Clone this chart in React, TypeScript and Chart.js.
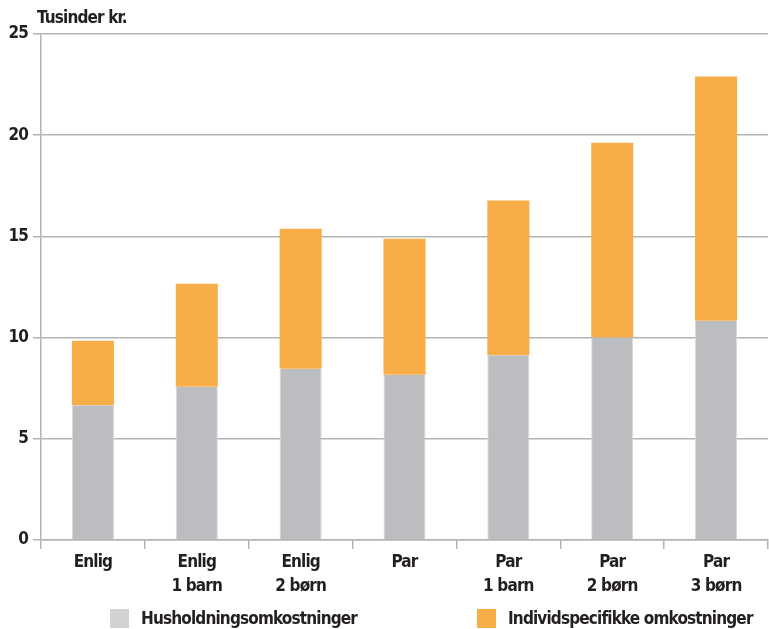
import React, { useEffect, useRef } from "react";
import { Chart, registerables } from "chart.js";

Chart.register(...registerables);

const categories: string[][] = [
  ["Enlig"],
  ["Enlig", "1 barn"],
  ["Enlig", "2 børn"],
  ["Par"],
  ["Par", "1 barn"],
  ["Par", "2 børn"],
  ["Par", "3 børn"],
];
const husholdning = [6.66, 7.57, 8.46, 8.16, 9.13, 10.0, 10.83];
const individ = [3.18, 5.09, 6.92, 6.73, 7.64, 9.63, 12.07];
const seriesNames = ["Husholdningsomkostninger", "Individspecifikke omkostninger"];
const yTicks = [0, 5, 10, 15, 20, 25];
const yTitle = "Tusinder kr.";

const FONT = "'DejaVu Sans', sans-serif";
const WEIGHT = "bold condensed";
const SIZE = 17;
const SPACING = "-0.85px";
const TEXT = "#231f20";
const GRAY = "#bcbdc0";
const GRAY_LEGEND = "#d1d2d4";
const ORANGE = "#f8ae48";
const GRID = "#b4b4b4";

export default function App() {
  const ref = useRef<HTMLCanvasElement | null>(null);

  useEffect(() => {
    document.body.style.margin = "0";
    const canvas = ref.current;
    if (!canvas) return;
    const textPlugin = {
      id: "yTitle",
      beforeDraw(chart: any) {
        (chart.ctx as any).letterSpacing = SPACING;
      },
      afterDraw(chart: any) {
        const ctx = chart.ctx;
        ctx.save();
        (ctx as any).letterSpacing = SPACING;
        ctx.font = `${WEIGHT} ${SIZE}px ${FONT}`;
        ctx.fillStyle = TEXT;
        ctx.textAlign = "left";
        ctx.textBaseline = "alphabetic";
        ctx.fillText(yTitle, chart.chartArea.left - 4, 23);
        ctx.restore();
      },
    };
    const chart = new Chart(canvas, {
      type: "bar",
      data: {
        labels: categories,
        datasets: [
          {
            label: seriesNames[0],
            data: husholdning,
            backgroundColor: GRAY,
            borderColor: "#d9d9db",
            borderWidth: { left: 1, right: 1, top: 0, bottom: 0 },
            borderSkipped: false,
            categoryPercentage: 0.405,
            barPercentage: 1,
          },
          {
            label: seriesNames[1],
            data: individ,
            backgroundColor: ORANGE,
            borderWidth: 0,
            categoryPercentage: 0.405,
            barPercentage: 1,
          },
        ],
      },
      options: {
        animation: false,
        responsive: false,
        maintainAspectRatio: false,
        layout: { padding: { top: 34, right: 1, left: 0, bottom: 0 } },
        plugins: {
          legend: { display: false },
          tooltip: { enabled: false },
          title: { display: false },
        },
        scales: {
          x: {
            stacked: true,
            offset: true,
            grid: {
              display: true,
              drawOnChartArea: false,
              drawTicks: true,
              tickLength: 9,
              color: GRID,
              lineWidth: 1.5,
              offset: true,
            },
            border: { display: true, color: GRID, width: 1.5 },
            ticks: {
              color: TEXT,
              font: { family: FONT, size: SIZE, weight: WEIGHT as any, lineHeight: 1.4 },
              padding: 2,
              maxRotation: 0,
              autoSkip: false,
            },
            afterFit(scale: any) {
              scale.height = 89;
            },
          },
          y: {
            stacked: true,
            min: 0,
            max: 25,
            afterBuildTicks(scale: any) {
              scale.ticks = yTicks.map((v) => ({ value: v }));
            },
            grid: {
              color: GRID,
              lineWidth: 1.5,
              tickLength: 8,
              drawTicks: true,
            },
            border: { display: true, color: GRID, width: 1.5 },
            ticks: {
              color: TEXT,
              font: { family: FONT, size: SIZE, weight: WEIGHT as any },
              padding: 5,
            },
            afterFit(scale: any) {
              scale.width = 41;
            },
          },
        },
      },
      plugins: [textPlugin],
    });
    return () => chart.destroy();
  }, []);

  const legendItems = [
    { name: seriesNames[0], color: GRAY_LEGEND, left: 110 },
    { name: seriesNames[1], color: ORANGE, left: 477 },
  ];

  return (
    <div style={{ position: "relative", width: 769, height: 629, background: "#fff", overflow: "hidden" }}>
      <canvas ref={ref} width={769} height={629} style={{ position: "absolute", left: 0, top: 0 }} />
      {legendItems.map((it) => (
        <div
          key={it.name}
          style={{
            position: "absolute",
            left: it.left,
            top: 608,
            display: "flex",
            alignItems: "center",
            whiteSpace: "nowrap",
            fontFamily: FONT,
            fontStretch: "condensed",
            fontWeight: "bold",
            fontSize: SIZE,
            letterSpacing: SPACING,
            color: TEXT,
            lineHeight: "20px",
          }}
        >
          <span style={{ display: "inline-block", width: 19, height: 19, background: it.color, marginRight: 12 }} />
          <span>{it.name}</span>
        </div>
      ))}
    </div>
  );
}
